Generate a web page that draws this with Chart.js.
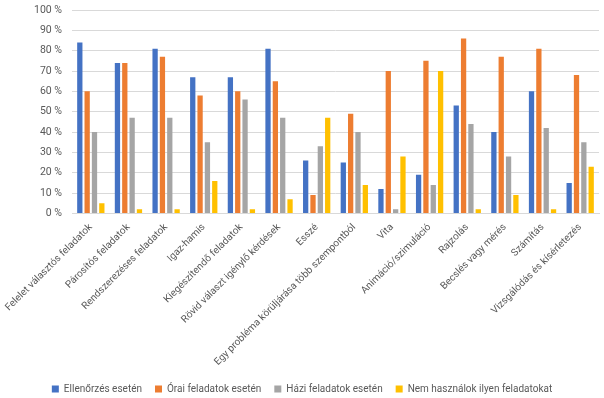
<!DOCTYPE html>
<html>
<head>
<meta charset="utf-8">
<script src="https://cdn.jsdelivr.net/npm/chart.js@4"></script>
<style>
  html, body { margin: 0; padding: 0; background: #fff; }
  #wrap { width: 604px; height: 398px; }
</style>
</head>
<body>
<div id="wrap"><canvas id="taskChart"></canvas></div>
<script>
// Categories (task types)
const categories = [
  'Felelet választós feladatok',
  'Párosítós feladatok',
  'Rendszerezéses feladatok',
  'Igaz-hamis',
  'Kiegészítendő feladatok',
  'Rövid választ igénylő kérdések',
  'Esszé',
  'Egy probléma körüljárása több szempontból',
  'Vita',
  'Animáció/szimuláció',
  'Rajzolás',
  'Becslés vagy mérés',
  'Számítás',
  'Vizsgálódás és kísérletezés'
];

// Series values, percent
const ellenorzes = [84, 74, 81, 67, 67, 81, 26, 25, 12, 19, 53, 40, 60, 15];
const orai       = [60, 74, 77, 58, 60, 65,  9, 49, 70, 75, 86, 77, 81, 68];
const hazi       = [40, 47, 47, 35, 56, 47, 33, 40,  2, 14, 44, 28, 42, 35];
const nemHasznal = [ 5,  2,  2, 16,  2,  7, 47, 14, 28, 70,  2,  9,  2, 23];

const seriesNames = ['Ellenőrzés esetén', 'Órai feladatok esetén', 'Házi feladatok esetén', 'Nem használok ilyen feladatokat'];
const colors = ['#4472C4', '#ED7D31', '#A5A5A5', '#FFC000'];

const textColor = '#595959';
const fontFamily = "Roboto, 'Liberation Sans', sans-serif";

var ctx = document.getElementById('taskChart').getContext('2d');
var taskChart = new Chart(ctx, {
  type: 'bar',
  data: {
    labels: categories,
    datasets: [ellenorzes, orai, hazi, nemHasznal].map(function (vals, i) {
      return {
        label: seriesNames[i],
        data: vals,
        backgroundColor: colors[i],
        barPercentage: 0.72,
        categoryPercentage: 0.78
      };
    })
  },
  options: {
    responsive: true,
    maintainAspectRatio: false,
    animation: false,
    layout: { padding: { top: 0, right: 0, bottom: -6, left: 0 } },
    plugins: {
      legend: {
        position: 'bottom',
        labels: {
          color: textColor,
          font: { family: fontFamily, size: 10 },
          boxWidth: 7,
          boxHeight: 7,
          padding: 13
        }
      },
      tooltip: { enabled: false }
    },
    scales: {
      x: {
        grid: { display: false },
        border: { color: '#d9d9d9' },
        afterFit: function (scale) {
          scale.height += 3;
          scale.paddingLeft = 72;
          scale.paddingRight = 5;
        },
        ticks: {
          color: textColor,
          font: { family: fontFamily, size: 10 },
          padding: 0,
          minRotation: 45,
          maxRotation: 45,
          autoSkip: false
        }
      },
      y: {
        min: 0,
        max: 100,
        grid: { color: '#d9d9d9', drawTicks: false },
        border: { display: false },
        afterFit: function (scale) { scale.paddingTop = 10; },
        ticks: {
          stepSize: 10,
          padding: 10,
          color: textColor,
          font: { family: fontFamily, size: 10.5, lineHeight: 1 },
          callback: function (v) { return v + ' %'; }
        }
      }
    }
  }
});
</script>
</body>
</html>
